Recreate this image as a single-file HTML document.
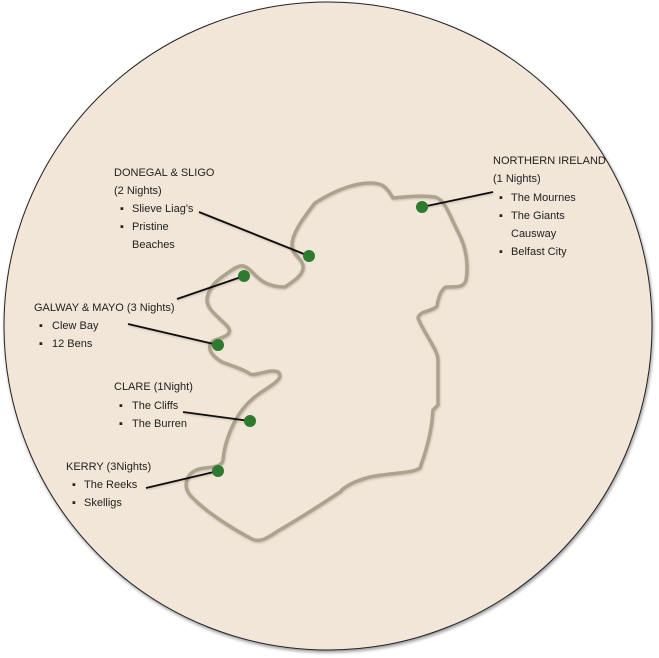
<!DOCTYPE html>
<html><head><meta charset="utf-8"><style>
html,body{margin:0;padding:0;background:#fff;width:659px;height:658px;overflow:hidden}
svg{display:block}
text{font-family:"Liberation Sans",sans-serif;font-size:11px;fill:#222}
</style></head><body>
<svg width="659" height="658" viewBox="0 0 659 658">
<defs>
<filter id="sh" x="-10%" y="-10%" width="120%" height="120%"><feGaussianBlur in="SourceAlpha" stdDeviation="1.5"/><feOffset dx="1" dy="2"/><feComponentTransfer><feFuncA type="linear" slope="0.4"/></feComponentTransfer><feMerge><feMergeNode/><feMergeNode in="SourceGraphic"/></feMerge></filter>
<filter id="sh2" x="-10%" y="-10%" width="120%" height="120%"><feGaussianBlur in="SourceAlpha" stdDeviation="1"/><feOffset dx="0.5" dy="1"/><feComponentTransfer><feFuncA type="linear" slope="0.2"/></feComponentTransfer><feMerge><feMergeNode/><feMergeNode in="SourceGraphic"/></feMerge></filter>
</defs>
<circle cx="328" cy="326" r="324" fill="#f2e6d8" stroke="#222" stroke-width="1" filter="url(#sh)"/>
<path d="M315,203 C335,190 355,183 370,183 C382,183 386,186 393,198 C405,197 420,195 435,197 C445,200 448,212 458,232 C468,250 468,270 466,280 C464,288 455,287 446,287 C440,290 438,300 437,306 C432,312 420,310 418,318 C425,335 438,350 438,360 L438,405 L433,410 C432,425 430,440 420,468 C410,474 395,472 370,477 C355,481 345,486 340,492 C325,502 300,518 283,528 C270,535 262,545 250,538 C235,530 205,512 190,495 C182,485 186,470 205,468 C215,467 222,466 223,460 C224,450 226,440 233,425 C240,410 250,400 260,393 C272,385 285,378 278,372 C270,368 255,377 250,374 C245,370 235,367 222,362 C210,355 205,345 215,340 C228,336 232,333 228,327 C220,318 207,310 207,300 C208,285 220,278 235,268 C242,264 245,266 250,270 C258,278 265,287 285,287 C292,282 305,275 303,265 C300,256 292,255 292,245 C292,235 300,222 315,203 Z" fill="none" stroke="#ada28e" stroke-width="3.5" stroke-linejoin="round" filter="url(#sh2)"/>
<g stroke="#111" stroke-width="1.8" filter="url(#sh2)">
<line x1="199" y1="212" x2="309" y2="256"/>
<line x1="177" y1="299" x2="244" y2="276"/>
<line x1="128" y1="324" x2="218" y2="345"/>
<line x1="183" y1="412" x2="250" y2="421"/>
<line x1="146" y1="488" x2="218" y2="471"/>
<line x1="422" y1="207" x2="493" y2="192"/>
</g>
<g fill="#2e7a2e">
<circle cx="422" cy="207" r="6"/><circle cx="309" cy="256" r="6"/><circle cx="244" cy="276" r="6"/>
<circle cx="218" cy="345" r="6"/><circle cx="250" cy="421" r="6"/><circle cx="218" cy="471" r="6"/>
</g>
<g>
<text x="114" y="176">DONEGAL &amp; SLIGO</text>
<text x="114" y="194">(2 Nights)</text>
<text x="120" y="212" font-size="8">▪</text><text x="132" y="212">Slieve Liag's</text>
<text x="120" y="230" font-size="8">▪</text><text x="132" y="230">Pristine</text>
<text x="132" y="248">Beaches</text>
<text x="34" y="311">GALWAY &amp; MAYO (3 Nights)</text>
<text x="39" y="329" font-size="8">▪</text><text x="52" y="329">Clew Bay</text>
<text x="39" y="347" font-size="8">▪</text><text x="52" y="347">12 Bens</text>
<text x="114" y="390">CLARE (1Night)</text>
<text x="119" y="409" font-size="8">▪</text><text x="132" y="409">The Cliffs</text>
<text x="119" y="427" font-size="8">▪</text><text x="132" y="427">The Burren</text>
<text x="66" y="470">KERRY (3Nights)</text>
<text x="72" y="488" font-size="8">▪</text><text x="84" y="488">The Reeks</text>
<text x="72" y="506" font-size="8">▪</text><text x="84" y="506">Skelligs</text>
<text x="493" y="164">NORTHERN IRELAND</text>
<text x="493" y="182">(1 Nights)</text>
<text x="499" y="201" font-size="8">▪</text><text x="511" y="201">The Mournes</text>
<text x="499" y="219" font-size="8">▪</text><text x="511" y="219">The Giants</text>
<text x="511" y="237">Causway</text>
<text x="499" y="255" font-size="8">▪</text><text x="511" y="255">Belfast City</text>
</g>
</svg>
</body></html>
